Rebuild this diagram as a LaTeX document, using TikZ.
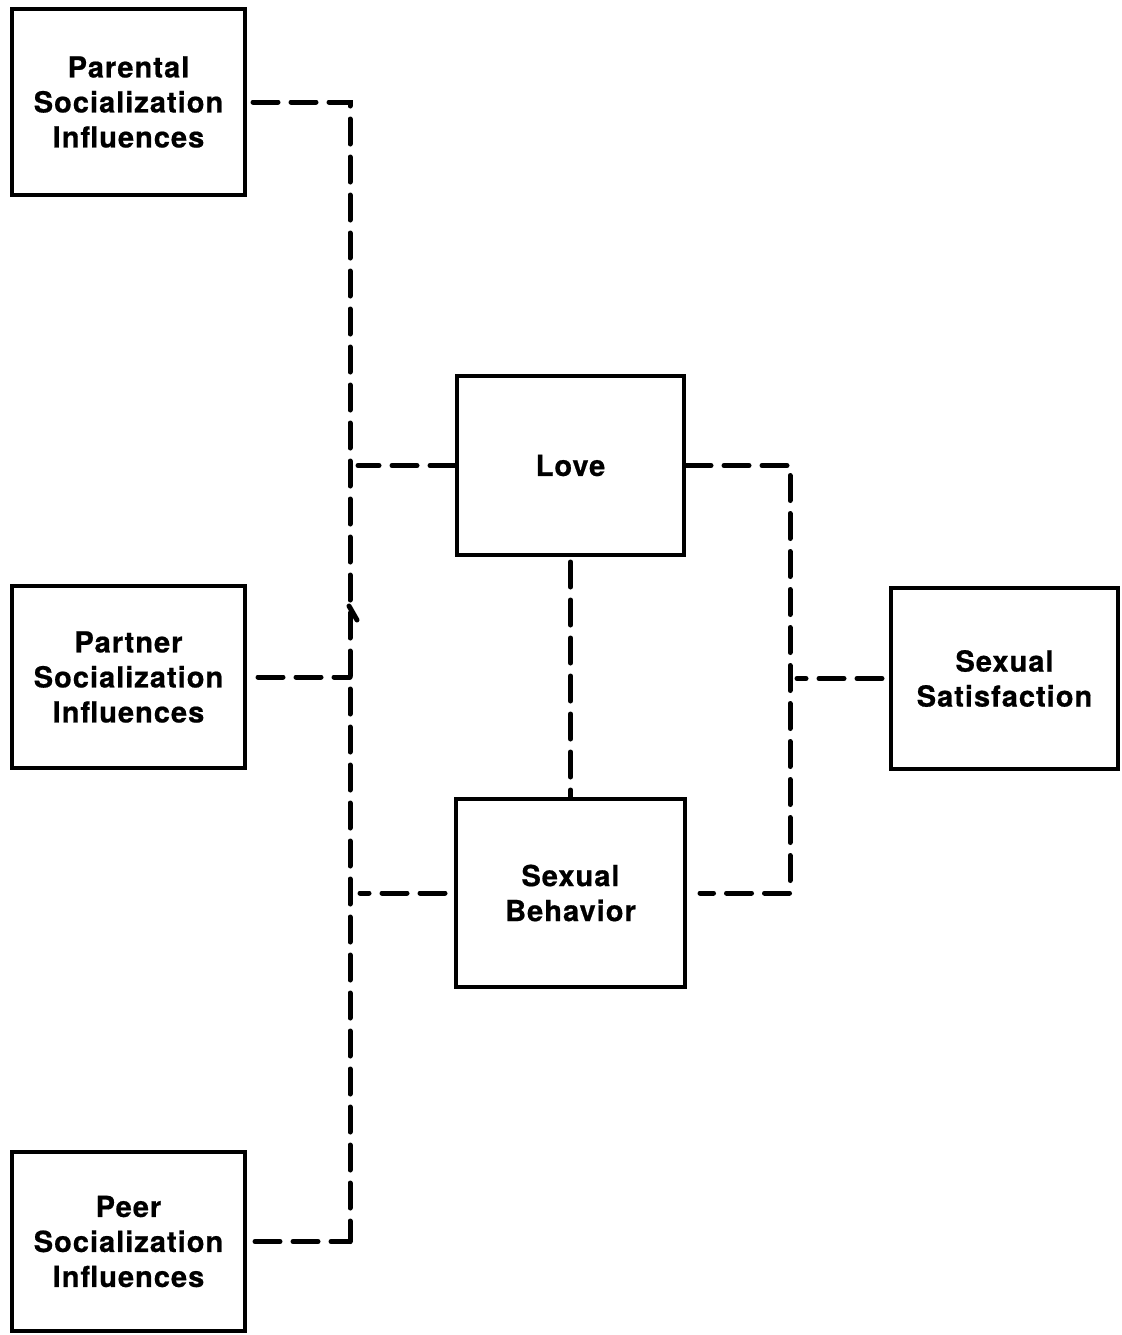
\documentclass[tikz,border=0pt]{standalone}
\usepackage{fontspec}
\setmainfont{TeX Gyre Heros}
\newfontfamily\boxfont[LetterSpace=3.5,FakeBold=0.6]{TeX Gyre Heros}
\begin{document}
\begin{tikzpicture}[x=0.5pt,y=-0.5pt,
  factor/.style={draw=black,line width=2pt,align=center,inner sep=0pt,
    font=\boxfont\bfseries\fontsize{14.5}{17.5}\selectfont},
  link/.style={draw=black,line width=2.5pt,line cap=round,
    dash pattern=on 12.5pt off 6.5pt}]
\useasboundingbox (0,0) rectangle (1121,1335);

% influence boxes on the left
\node[factor,minimum width=116.5pt,minimum height=93pt] (par) at (128.5,102)
  {Parental\\Socialization\\Influences};
\node[factor,minimum width=116.5pt,minimum height=91pt] (prt) at (128.5,677)
  {Partner\\Socialization\\Influences};
\node[factor,minimum width=116.5pt,minimum height=89.5pt] (peer) at (128.5,1241.5)
  {Peer\\Socialization\\Influences};

% central boxes
\node[factor,minimum width=113.5pt,minimum height=89.5pt] (love) at (570.5,465.5) {Love};
\node[factor,minimum width=114.5pt,minimum height=94pt] (beh) at (570.5,893)
  {Sexual\\Behavior};

% outcome box
\node[factor,minimum width=113.5pt,minimum height=90.5pt] (sat) at (1004.5,678.5)
  {Sexual\\Satisfaction};

% bus lines
\coordinate (lbus) at (350,0);
\coordinate (rbus) at (790,0);

% left bus joining the three influences
\draw[link,shorten <=3pt] (par.east) -| (lbus |- peer.east);
\draw[link,shorten <=4pt] (peer.east) -- (lbus |- peer.east);
\draw[link,shorten <=5.5pt] (prt.east) -- (lbus |- prt.east);
\draw[line width=2.5pt,line cap=round] (349,606) -- (357,620);

% left bus into the central boxes
\draw[link,shorten >=4pt] (love.west) -- (lbus |- love.west);
\draw[link,shorten <=4.5pt,shorten >=5pt] (beh.west) -- (lbus |- beh.west);

% love -- behaviour
\draw[link,shorten <=2.5pt] (love.south) -- (beh.north);

% right bus to satisfaction
\draw[link,shorten >=6.5pt] (love.east) -| (rbus |- beh.east) -- (beh.east);
\draw[link,shorten <=3.5pt,shorten >=3.5pt] (sat.west) -- (rbus |- sat.west);
\end{tikzpicture}
\end{document}
